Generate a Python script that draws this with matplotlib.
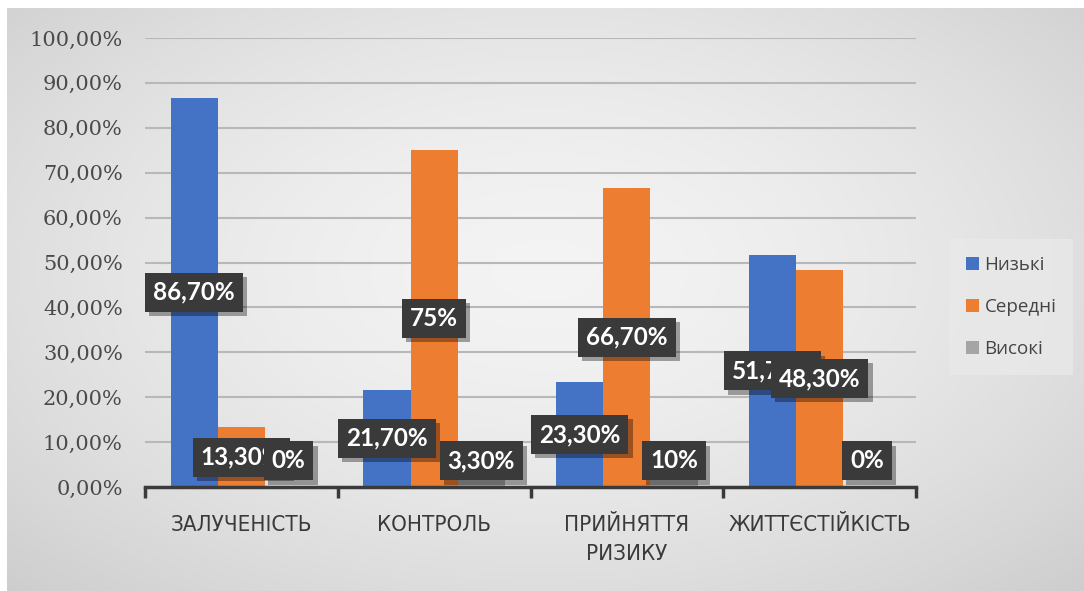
import numpy as np
import matplotlib
matplotlib.use("Agg")
import matplotlib.pyplot as plt
from matplotlib import patheffects as pe
from matplotlib.ticker import FuncFormatter
from matplotlib import font_manager as fm

categories = ["ЗАЛУЧЕНІСТЬ", "КОНТРОЛЬ", "ПРИЙНЯТТЯ\nРИЗИКУ", "ЖИТТЄСТІЙКІСТЬ"]
series_names = ["Низькі", "Середні", "Високі"]
low = [86.7, 21.7, 23.3, 51.7]
mid = [13.3, 75.0, 66.7, 48.3]
high = [0.0, 3.3, 10.0, 0.0]
label_low = ["86,70%", "21,70%", "23,30%", "51,70%"]
label_mid = ["13,30%", "75%", "66,70%", "48,30%"]
label_high = ["0%", "3,30%", "10%", "0%"]
colors = ["#4472C4", "#ED7D31", "#A5A5A5"]

# pick a condensed font for category labels if present
cond_prop = None
for f in fm.fontManager.ttflist:
    if "Condensed" in f.fname and "DejaVuSans" in f.fname.replace(" ", "") and "Bold" not in f.fname and "Oblique" not in f.fname:
        cond_prop = fm.FontProperties(fname=f.fname, size=16)
        break
if cond_prop is None:
    cond_prop = fm.FontProperties(family="DejaVu Sans", stretch="condensed", size=15)

W, H = 1084, 591
fig = plt.figure(figsize=(W / 100, H / 100), dpi=100)
fig.patch.set_facecolor("white")

# background radial gradient
bg = fig.add_axes([7 / W, 0, 1 - 7 / W, 1 - 8 / H])
bg.set_axis_off()
yy, xx = np.mgrid[0:1:300j, 0:1:600j]
r = np.sqrt(((xx - 0.5) / 0.75) ** 2 + ((yy - 0.45) / 0.8) ** 2)
val = 0.955 - 0.16 * np.clip(r, 0, 1) ** 1.6
bg.imshow(np.dstack([val, val, val]), aspect="auto", extent=[0, 1, 0, 1],
          interpolation="bilinear")
bg.set_xlim(0, 1)
bg.set_ylim(0, 1)

ax = fig.add_axes([145 / W, 1 - 487 / H, (916 - 145) / W, (487 - 38) / H])
ax.patch.set_alpha(0)

x = np.arange(len(categories))
bw = 0.245
data = [low, mid, high]
labels = [label_low, label_mid, label_high]
for i, (vals, col) in enumerate(zip(data, colors)):
    ax.bar(x + (i - 1) * bw, vals, width=bw, color=col, zorder=3,
           label=series_names[i])

for i, (vals, labs) in enumerate(zip(data, labels)):
    for j, (v, s) in enumerate(zip(vals, labs)):
        t = ax.text(x[j] + (i - 1) * bw, max(v / 2, 5.8), s,
                    ha="center", va="center", color="white",
                    fontsize=17.5, fontweight="bold", family="Lato",
                    zorder=10 + i,
                    bbox=dict(boxstyle="square,pad=0.33", fc="#3a3a3a",
                              ec="none"))
        t.get_bbox_patch().set_path_effects([
            pe.SimplePatchShadow(offset=(3, -3), shadow_rgbFace="black",
                                 alpha=0.35),
            pe.Normal()])

ax.set_ylim(0, 100)
ax.set_xlim(-0.5, len(categories) - 0.5)
ax.set_yticks(np.arange(0, 101, 10))
ax.yaxis.set_major_formatter(FuncFormatter(lambda v, p: f"{v:.2f}%".replace(".", ",")))
ax.grid(axis="y", color="#b8b8b8", linewidth=1.5, zorder=0)
ax.tick_params(axis="y", length=0, pad=16, labelsize=15, labelcolor="#4a4a4a")
for lab in ax.get_yticklabels():
    lab.set_family("DejaVu Serif")

ax.set_xticks(np.arange(-0.5, len(categories), 1.0))
ax.set_xticklabels([])
ax.set_xticks(x, minor=True)
ax.set_xticklabels(categories, minor=True, color="#3a3a3a", linespacing=1.55)
for lab in ax.get_xticklabels(minor=True):
    lab.set_fontproperties(cond_prop)
ax.tick_params(axis="x", which="major", length=8, width=2.5, color="#3a3a3a",
               direction="out")
ax.tick_params(axis="x", which="minor", length=0, pad=20)
for side in ["top", "right", "left"]:
    ax.spines[side].set_visible(False)
ax.spines["bottom"].set_color("#3a3a3a")
ax.spines["bottom"].set_linewidth(2.5)
ax.spines["bottom"].set_zorder(5)

leg = fig.legend(loc="upper left", bbox_to_anchor=(945 / W, 1 - 235 / H),
                 frameon=True, handlelength=0.7, handleheight=0.7,
                 handletextpad=0.3, labelspacing=1.3, borderpad=0.6,
                 prop={"family": "Open Sans", "size": 13.5})
leg.get_frame().set_facecolor("#e9e9e9")
leg.get_frame().set_edgecolor("none")
leg.get_frame().set_boxstyle("square")
for t in leg.get_texts():
    t.set_color("#444444")

fig.savefig("out.png", dpi=100)
